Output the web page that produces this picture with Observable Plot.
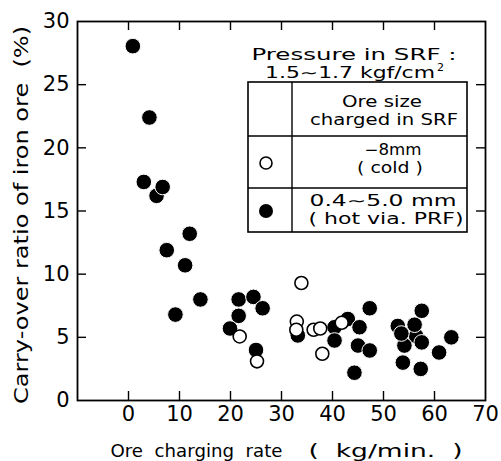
<!DOCTYPE html>
<html><head><meta charset="utf-8">
<script src="https://cdn.jsdelivr.net/npm/d3@7"></script>
<script src="https://cdn.jsdelivr.net/npm/@observablehq/plot@0.6"></script>
<style>
body{margin:0;background:#fff}
svg text{white-space:pre}
</style>
</head><body><div id="chart"></div>
<script>
// Hot ore (0.4~5.0 mm, via PRF) — filled circles
const hotX = [5.5, 0.85, 4.1, 3.0, 6.7, 12.0, 7.5, 11.1, 14.1, 9.2, 21.6, 24.5, 26.3, 21.6, 19.9, 25.0, 33.2, 40.4, 43.0, 45.3, 40.4, 45.0, 47.3, 44.3, 47.3, 52.8, 56.4, 56.1, 54.1, 57.5, 57.5, 63.3, 60.9, 53.8, 57.3, 53.5];
const hotY = [16.2, 28.05, 22.4, 17.3, 16.9, 13.2, 11.9, 10.7, 8.0, 6.8, 8.0, 8.2, 7.3, 6.7, 5.7, 4.0, 5.15, 5.8, 6.45, 5.8, 4.75, 4.35, 3.96, 2.2, 7.3, 5.9, 5.1, 6.0, 4.35, 4.6, 7.1, 5.0, 3.8, 3.0, 2.5, 5.3];
// Cold ore (-8 mm) — open circles
const coldX = [21.8, 25.2, 33.9, 33.0, 32.9, 36.3, 37.6, 38.0, 41.8];
const coldY = [5.07, 3.1, 9.3, 6.25, 5.6, 5.6, 5.7, 3.7, 6.15];

const xTicks = [0, 10, 20, 30, 40, 50, 60, 70];
const yTicks = [0, 5, 10, 15, 20, 25, 30];
const xTitle = "Ore  charging  rate";
const xUnit = "(  kg/min.  )";
const yTitle = "Carry-over ratio of iron ore  (%)";
const legendTitle1 = "Pressure in SRF :";
const legendTitle2 = "1.5∼1.7 kgf/cm";
const legendTitleSup = "2";
const legendHeader = ["Ore size", "charged in SRF"];
const legendCold = ["−8mm", "( cold )"];
const legendHot = ["0.4∼5.0 mm", "( hot via. PRF)"];

const hot = hotX.map((x, i) => ({x, y: hotY[i]}));
const cold = coldX.map((x, i) => ({x, y: coldY[i]}));

const W = 501, H = 461, mL = 77, mR = 16, mT = 21, mB = 61;
const pw = W - mL - mR, ph = H - mT - mB;
const FONT = "DejaVu Sans";

function stretchedText(g, str, x, y, len, size, anchor = "middle") {
  return g.append("text").attr("x", x).attr("y", y).attr("text-anchor", anchor)
    .attr("font-size", size).attr("textLength", len).attr("lengthAdjust", "spacingAndGlyphs").text(str);
}

function legendMark() {
  const g = d3.create("svg:g").attr("font-family", FONT).attr("fill", "black");
  const L = 248, R = 467, T = 82, H1 = 136, H2 = 188, B = 232, C = 292;
  stretchedText(g, legendTitle1, 354, 60, 205, 15);
  stretchedText(g, legendTitle2, 265, 78, 170, 15, "start");
  g.append("text").attr("x", 437).attr("y", 71).attr("font-size", 11).attr("text-anchor", "start").text(legendTitleSup);
  g.append("rect").attr("x", L).attr("y", T).attr("width", R - L).attr("height", B - T)
    .attr("fill", "white").attr("stroke", "black").attr("stroke-width", 1.6);
  g.append("line").attr("x1", L).attr("x2", R).attr("y1", H1).attr("y2", H1).attr("stroke", "black").attr("stroke-width", 1.4);
  g.append("line").attr("x1", L).attr("x2", R).attr("y1", H2).attr("y2", H2).attr("stroke", "black").attr("stroke-width", 1.4);
  g.append("line").attr("x1", C).attr("x2", C).attr("y1", T).attr("y2", B).attr("stroke", "black").attr("stroke-width", 1.4);
  stretchedText(g, legendHeader[0], 382, 107, 80, 15);
  stretchedText(g, legendHeader[1], 384, 125, 148, 15);
  stretchedText(g, legendCold[0], 393, 155, 57, 15);
  stretchedText(g, legendCold[1], 390, 173, 66, 15);
  stretchedText(g, legendHot[0], 383, 206, 147, 15);
  stretchedText(g, legendHot[1], 386, 224, 155, 15);
  g.append("circle").attr("cx", 266).attr("cy", 163).attr("r", 6).attr("fill", "white").attr("stroke", "black").attr("stroke-width", 1.6);
  g.append("circle").attr("cx", 266).attr("cy", 211).attr("r", 7).attr("fill", "black");
  return g.node();
}

const chart = Plot.plot({
  width: W, height: H,
  marginLeft: mL, marginRight: mR, marginTop: mT, marginBottom: mB,
  style: {fontFamily: FONT, background: "white", color: "black"},
  x: {domain: [-10, 70]},
  y: {domain: [0, 30]},
  marks: [
    Plot.axisX(xTicks, {anchor: "bottom", tickSize: 0, tickPadding: 6, fontSize: 21, label: null}),
    Plot.axisY(yTicks, {anchor: "left", tickSize: 0, tickPadding: 8, fontSize: 21, label: null}),
    Plot.tickX(xTicks.filter(d => d < 70), {x: d => d, insetTop: ph - 9, stroke: "black", strokeWidth: 1.4}),
    Plot.tickX(xTicks.filter(d => d < 70), {x: d => d, insetBottom: ph - 9, stroke: "black", strokeWidth: 1.4}),
    Plot.tickY(yTicks.filter(d => d > 0 && d < 30), {y: d => d, insetRight: pw - 9, stroke: "black", strokeWidth: 1.4}),
    Plot.tickY(yTicks.filter(d => d > 0 && d < 30), {y: d => d, insetLeft: pw - 9, stroke: "black", strokeWidth: 1.4}),
    Plot.frame({stroke: "black", strokeWidth: 1.8}),
    legendMark,
    Plot.dot(hot, {x: "x", y: "y", r: 7.8, fill: "black", stroke: "white", strokeWidth: 1}),
    Plot.dot(cold, {x: "x", y: "y", r: 6.5, fill: "white", stroke: "black", strokeWidth: 1.6}),
    Plot.text([xTitle], {text: d => d, frameAnchor: "bottom-left", dx: 33, dy: 56, textAnchor: "start", lineAnchor: "bottom", fontSize: 18}),
    Plot.text([xUnit], {text: d => d, frameAnchor: "bottom-left", dx: 231, dy: 56, textAnchor: "start", lineAnchor: "bottom", fontSize: 17}),
    Plot.text([yTitle], {text: d => d, frameAnchor: "left", dx: -56, dy: 4, rotate: -90, textAnchor: "middle", lineAnchor: "middle", fontSize: 20})
  ]
});
// stretch axis titles horizontally to the reference's wide lettering
const fit = {[xTitle]: 172, [xUnit]: 154, [yTitle]: 378};
d3.select(chart).selectAll("text").each(function() {
  const len = fit[this.textContent];
  if (len) d3.select(this).attr("textLength", len).attr("lengthAdjust", "spacingAndGlyphs");
});
document.getElementById("chart").appendChild(chart);
</script>
</body></html>
